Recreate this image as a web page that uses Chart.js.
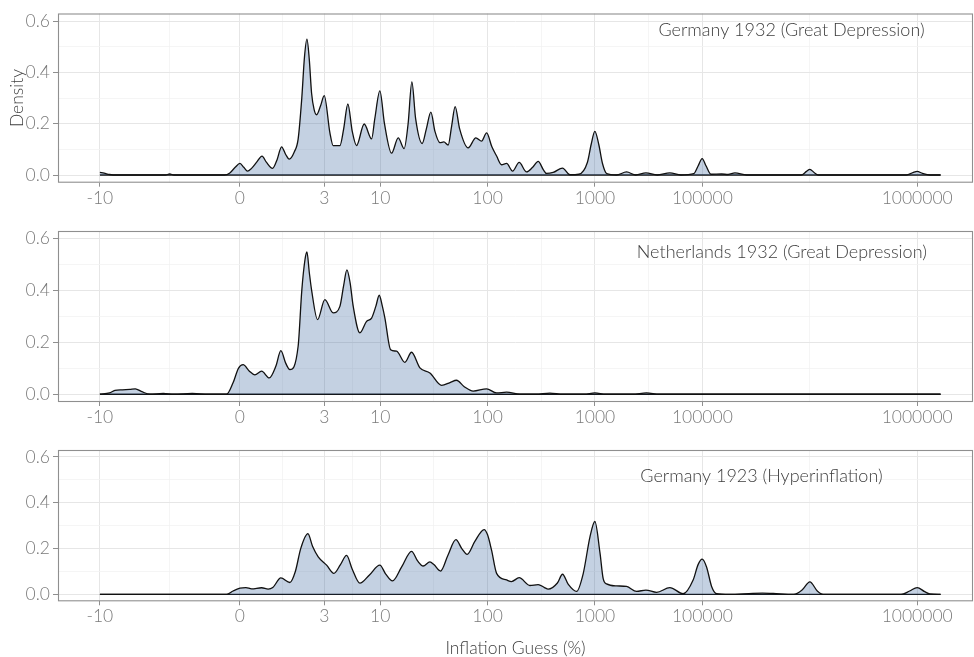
<!DOCTYPE html>
<html><head><meta charset="utf-8">
<script src="https://cdn.jsdelivr.net/npm/chart.js@4.4.1/dist/chart.umd.min.js"></script>
<style>
html,body{margin:0;padding:0;background:#fff;}
#wrap{position:relative;width:974px;height:657px;overflow:hidden;}
canvas{position:absolute;left:0;}
</style></head><body>
<div id="wrap">
<canvas id="c1" width="974" height="210" style="top:0px"></canvas>
<canvas id="c2" width="974" height="220" style="top:210px"></canvas>
<canvas id="c3" width="974" height="227" style="top:430px"></canvas>
</div>
<script>
// x positions are in axis units (log-position of the inflation guess)
const xTickPositions = [-1.61, -0.306, 0.479, 1, 2, 3, 4, 6];
const xTickLabels = ['-10', '0', '3', '10', '100', '1000', '100000', '1000000'];
const yTickValues = [0, 0.2, 0.4, 0.6];
const panelTitles = ['Germany 1932 (Great Depression)', 'Netherlands 1932 (Great Depression)', 'Germany 1923 (Hyperinflation)'];
const titleX = [4.83, 4.74, 4.55];
const titleY = [0.565, 0.55, 0.517];

const germany1932X = [-1.61,-1.57,-1.52,-1.45,-1.0,-0.96,-0.92,-0.45,-0.40,-0.35,-0.306,-0.27,-0.235,-0.2,-0.15,-0.10,-0.06,-0.002,0.04,0.082,0.12,0.153,0.20,0.236,0.27,0.295,0.318,0.34,0.361,0.385,0.408,0.445,0.479,0.532,0.562,0.625,0.66,0.699,0.74,0.78,0.851,0.92,0.95,0.997,1.04,1.106,1.168,1.223,1.26,1.295,1.33,1.391,1.43,1.472,1.51,1.556,1.593,1.633,1.665,1.698,1.74,1.819,1.891,1.944,1.991,2.04,2.084,2.13,2.177,2.233,2.294,2.363,2.42,2.471,2.52,2.549,2.611,2.698,2.766,2.85,2.93,2.965,2.999,3.035,3.07,3.11,3.2,3.294,3.38,3.474,3.58,3.697,3.8,3.92,3.96,3.998,4.035,4.08,4.179,4.24,4.303,4.411,4.92,4.97,5.001,5.04,5.078,5.90,5.96,6.0,6.05,6.118,6.218];
const germany1932Y = [0.010,0.007,0.002,0.0,0.0,0.004,0.0,0.0,0.008,0.03,0.045,0.03,0.015,0.025,0.05,0.074,0.05,0.026,0.06,0.11,0.08,0.062,0.09,0.14,0.30,0.46,0.53,0.45,0.32,0.255,0.235,0.27,0.31,0.164,0.115,0.115,0.18,0.277,0.17,0.115,0.199,0.141,0.22,0.328,0.2,0.085,0.145,0.103,0.2,0.363,0.22,0.123,0.18,0.245,0.17,0.126,0.129,0.117,0.19,0.267,0.18,0.106,0.145,0.132,0.164,0.11,0.074,0.04,0.045,0.015,0.049,0.012,0.03,0.053,0.02,0.006,0.01,0.027,0.001,0.003,0.05,0.12,0.17,0.12,0.045,0.005,0.0,0.012,0.0,0.008,0.0,0.008,0.0,0.005,0.035,0.064,0.035,0.003,0.004,0.002,0.008,0.0,0.0,0.014,0.022,0.01,0.0,0.0,0.009,0.014,0.006,0.0,0.0];

const netherlands1932X = [-1.61,-1.52,-1.47,-1.40,-1.33,-1.28,-1.22,-1.144,-1.02,-0.92,-0.75,-0.6,-0.43,-0.37,-0.32,-0.276,-0.22,-0.167,-0.104,-0.033,0.03,0.075,0.12,0.159,0.236,0.27,0.30,0.318,0.34,0.361,0.417,0.485,0.562,0.625,0.66,0.69,0.72,0.749,0.811,0.873,0.92,0.96,0.991,1.02,1.044,1.097,1.153,1.23,1.292,1.37,1.463,1.572,1.65,1.711,1.78,1.866,1.991,2.084,2.177,2.301,2.45,2.58,2.7,2.9,2.999,3.1,3.35,3.48,3.6,6.218];
const netherlands1932Y = [0.0,0.005,0.015,0.017,0.019,0.021,0.01,0.0,0.003,0.0,0.003,0.0,0.0,0.044,0.10,0.114,0.09,0.075,0.089,0.063,0.11,0.168,0.12,0.095,0.185,0.40,0.52,0.549,0.47,0.403,0.288,0.365,0.314,0.339,0.42,0.48,0.43,0.339,0.237,0.281,0.294,0.34,0.382,0.34,0.294,0.172,0.166,0.123,0.162,0.102,0.082,0.034,0.045,0.054,0.03,0.012,0.021,0.005,0.008,0.0,0.0,0.004,0.0,0.0,0.005,0.0,0.0,0.005,0.0,0.0];

const germany1923X = [-1.61,-0.43,-0.37,-0.306,-0.25,-0.197,-0.104,-0.043,0.0,0.075,0.159,0.21,0.26,0.327,0.37,0.423,0.501,0.569,0.63,0.687,0.74,0.811,0.9,0.997,1.05,1.115,1.2,1.292,1.35,1.40,1.463,1.5,1.562,1.63,1.705,1.76,1.810,1.88,1.968,2.0,2.037,2.084,2.177,2.223,2.294,2.394,2.471,2.53,2.564,2.65,2.698,2.75,2.829,2.89,2.953,2.999,3.047,3.076,3.108,3.201,3.294,3.387,3.474,3.574,3.697,3.821,3.914,3.96,3.998,4.039,4.086,4.132,4.25,4.47,4.56,4.66,4.85,4.93,5.001,5.07,5.125,5.85,5.93,6.0,6.07,6.118,6.218];
const germany1923Y = [0.0,0.0,0.015,0.027,0.03,0.024,0.029,0.023,0.03,0.072,0.052,0.10,0.20,0.265,0.21,0.164,0.128,0.092,0.13,0.17,0.11,0.049,0.085,0.128,0.09,0.059,0.12,0.188,0.145,0.124,0.142,0.13,0.102,0.17,0.239,0.2,0.175,0.23,0.283,0.26,0.193,0.092,0.063,0.056,0.073,0.039,0.043,0.03,0.023,0.05,0.088,0.045,0.013,0.09,0.25,0.318,0.18,0.07,0.046,0.037,0.035,0.013,0.019,0.009,0.03,0.003,0.063,0.13,0.154,0.12,0.035,0.003,0.0,0.005,0.006,0.004,0.0,0.02,0.055,0.015,0.0,0.0,0.015,0.03,0.012,0.002,0.0];

const seriesX = [germany1932X, netherlands1932X, germany1923X];
const seriesY = [germany1932Y, netherlands1932Y, germany1923Y];

const FONT = 'Lato, "Open Sans", sans-serif';
const xMinor = xTickPositions.slice(1).map((v, i) => (v + xTickPositions[i]) / 2);
const yMinor = yTickValues.slice(1).map((v, i) => (v + yTickValues[i]) / 2);
const xAll = xTickPositions.concat(xMinor).sort((a, b) => a - b);
const yAll = yTickValues.concat(yMinor).sort((a, b) => a - b);
const isMajorX = v => xTickPositions.some(p => Math.abs(p - v) < 1e-9);
const isMajorY = v => yTickValues.some(p => Math.abs(p - v) < 1e-9);

const borderPlugin = {
  id: 'panelBorder',
  afterDatasetsDraw(chart) {
    const a = chart.chartArea, ctx = chart.ctx;
    ctx.save();
    ctx.strokeStyle = '#8f8f8f';
    ctx.lineWidth = 1.1;
    ctx.strokeRect(a.left + 0.5, a.top + 0.5, a.right - a.left - 1, a.bottom - a.top - 1);
    ctx.restore();
  }
};
const titlePlugin = {
  id: 'panelTitle',
  afterDatasetsDraw(chart, args, opts) {
    const ctx = chart.ctx;
    ctx.save();
    ctx.font = '300 18px ' + FONT;
    ctx.fillStyle = '#3d3d3d';
    ctx.textAlign = 'center';
    ctx.textBaseline = 'middle';
    ctx.fillText(opts.text, chart.scales.x.getPixelForValue(opts.x), chart.scales.y.getPixelForValue(opts.y));
    ctx.restore();
  }
};

const layouts = [
  {id: 'c1', top: 12.7, xh: 27.3},
  {id: 'c2', top: 21, xh: 28},
  {id: 'c3', top: 20, xh: 55.7}
];

layouts.forEach((L, i) => {
  const pts = seriesX[i].map((x, k) => ({x: x, y: seriesY[i][k]}));
  const xs = seriesX[i];
  new Chart(document.getElementById(L.id), {
    type: 'line',
    data: {
      datasets: [
        {data: pts, borderColor: '#111', borderWidth: 1.3, backgroundColor: 'rgba(58,102,158,0.30)',
         fill: 'origin', pointRadius: 0, cubicInterpolationMode: 'monotone'},
        {data: [{x: xs[0], y: 0}, {x: xs[xs.length - 1], y: 0}], borderColor: '#111', borderWidth: 1.3,
         pointRadius: 0, fill: false}
      ]
    },
    options: {
      responsive: false, animation: false,
      layout: {padding: {top: L.top, right: 1, left: 0, bottom: 0}},
      plugins: {legend: {display: false}, tooltip: {enabled: false},
        panelTitle: {text: panelTitles[i], x: titleX[i], y: titleY[i]}},
      scales: {
        x: {
          type: 'linear', min: -2.0, max: 6.52,
          afterBuildTicks: s => { s.ticks = xAll.map(v => ({value: v})); },
          afterFit: s => { s.height = L.xh; },
          border: {display: false},
          grid: {
            color: c => isMajorX(c.tick.value) ? '#e6e6e6' : '#f2f2f2',
            lineWidth: c => isMajorX(c.tick.value) ? 1 : 0.8,
            tickColor: c => isMajorX(c.tick.value) ? '#8f8f8f' : 'rgba(0,0,0,0)',
            tickLength: 4, drawTicks: true
          },
          ticks: {
            autoSkip: false, maxRotation: 0, padding: 1, color: '#7a7a7a',
            font: {family: FONT, size: 17.5, weight: 300},
            callback: v => { const k = xTickPositions.findIndex(p => Math.abs(p - v) < 1e-9); return k >= 0 ? xTickLabels[k] : ''; }
          },
          title: i === 2 ? {display: true, text: 'Inflation Guess (%)', color: '#3d3d3d',
            font: {family: FONT, size: 17.5, weight: 300, lineHeight: 1}, padding: {top: 0, bottom: 0}} : {display: false}
        },
        y: {
          type: 'linear', min: -0.03, max: 0.63,
          afterBuildTicks: s => { s.ticks = yAll.map(v => ({value: v})); },
          afterFit: s => { s.width = 58; },
          border: {display: false},
          grid: {
            color: c => isMajorY(c.tick.value) ? '#e6e6e6' : '#f2f2f2',
            lineWidth: c => isMajorY(c.tick.value) ? 1 : 0.8,
            tickColor: c => isMajorY(c.tick.value) ? '#8f8f8f' : 'rgba(0,0,0,0)',
            tickLength: 5, drawTicks: true
          },
          ticks: {
            autoSkip: false, padding: 3, color: '#7a7a7a',
            font: {family: FONT, size: 17.5, weight: 300},
            callback: v => isMajorY(v) ? v.toFixed(1) : ''
          },
          title: i === 0 ? {display: true, text: 'Density', color: '#3d3d3d',
            font: {family: FONT, size: 17.5, weight: 300, lineHeight: 1}, padding: {top: 9, bottom: 0}} : {display: false}
        }
      }
    },
    plugins: [borderPlugin, titlePlugin]
  });
});
</script>
</body></html>
